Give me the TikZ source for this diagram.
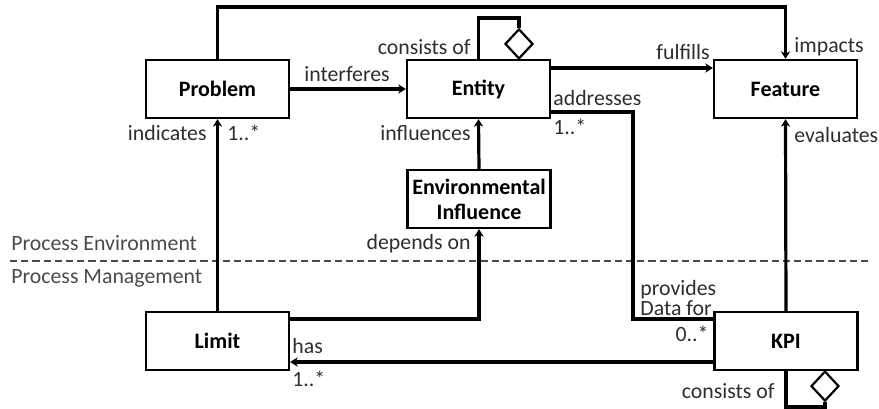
\documentclass[tikz,border=0pt]{standalone}
\usepackage{fontspec}
\setmainfont{Carlito}
\usetikzlibrary{arrows.meta,shapes.geometric}
\definecolor{lbl}{HTML}{2E2E2E}
\definecolor{sec}{HTML}{4A4A4A}
\begin{document}
\begin{tikzpicture}[x=0.5pt,y=-0.5pt,
  every node/.style={font=\fontsize{10.9pt}{12pt}\selectfont},
  box/.style={draw,line width=1.1pt,minimum width=71.5pt,minimum height=29pt,inner sep=1pt,align=center,font=\fontsize{11pt}{12.5pt}\selectfont\bfseries},
  conn/.style={line width=1.6pt},
  arr/.style={conn,-{Stealth[length=3.8pt,width=4.6pt,inset=1.2pt]}},
  agg/.style={draw,diamond,line width=1.1pt,fill=white,inner sep=0pt,minimum width=14pt,minimum height=15pt},
  lab/.style={text=lbl,inner sep=0pt},
  sect/.style={text=sec,inner sep=0pt}]
\useasboundingbox (0,0) rectangle (879,408);
% boxes
\node[box] (problem) at (217.5,89) {Problem};
\node[box] (entity) at (478.5,89) {Entity};
\node[box] (feature) at (785.5,89) {Feature};
\node[box] (env) at (479,199) {Environmental\\Influence};
\node[box] (limit) at (217.5,341) {Limit};
\node[box] (kpi) at (786,341) {KPI};
% diamonds
\node[agg,anchor=south] (d1) at (519,60) {};
\node[agg,anchor=north] (d2) at (825,370) {};
% helper coordinates
\coordinate (topy) at (0,7);
\coordinate (loopy) at (0,18);
\coordinate (addr) at (633,112);
\coordinate (bot) at (0,407);
% section divider
\draw[sec,line width=1.4pt,dash pattern=on 3.6pt off 2pt] (10,261) coordinate (dl) -- (870,261) coordinate (dr);
\node[sect,anchor=west] (pe) at (11,243) {Process Environment};
\node[sect,anchor=west] (pm) at (11,278) {Process Management};
% connectors
\draw[arr] (problem.north) |- (feature.north |- topy) -- (feature.north);
\draw[arr] (problem.east) -- (entity.west);
\draw[arr] (entity.east |- 0,68) -- (feature.west |- 0,68);
\draw[conn] (entity.north) |- (d1.north |- loopy) -- (d1.north);
\draw[conn] (entity.east |- addr) -| (addr |- 0,319) -- (kpi.west |- 0,319);
\draw[arr] (env.north) -- (entity.south);
\draw[arr] (limit.east |- 0,319) -| (env.south);
\draw[arr] (kpi.west |- 0,362) -- (limit.east |- 0,362);
\draw[arr] (limit.north) -- (problem.south);
\draw[arr] (kpi.north) -- (feature.south);
\draw[conn] (kpi.south) |- (d2.south |- bot) -- (d2.south);
% labels
\node[lab,anchor=west] (l1) at (794,47) {impacts};
\node[lab,anchor=east] (l2) at (471,47) {consists of};
\node[lab] (l3) at (347,74) {interferes};
\node[lab] (l4) at (683,52) {fulfills};
\node[lab,anchor=west] (l5) at (553,98) {addresses};
\node[lab,anchor=west] (l6) at (553,127) {1..*};
\node[lab,anchor=east] (l7) at (207,133) {indicates};
\node[lab,anchor=west] (l8) at (227,133) {1..*};
\node[lab,anchor=east] (l9) at (471,133) {influences};
\node[lab,anchor=west] (l10) at (794,135) {evaluates};
\node[lab,anchor=east] (l11) at (471,244) {depends on};
\node[lab,anchor=west] (l12) at (640,290) {provides};
\node[lab,anchor=west] (l13) at (640,308) {Data for};
\node[lab,anchor=east] (l14) at (709,334) {0..*};
\node[lab,anchor=west] (l15) at (292,346) {has};
\node[lab,anchor=west] (l16) at (292,379) {1..*};
\node[lab,anchor=east] (l17) at (775,391) {consists of};
\end{tikzpicture}
\end{document}
